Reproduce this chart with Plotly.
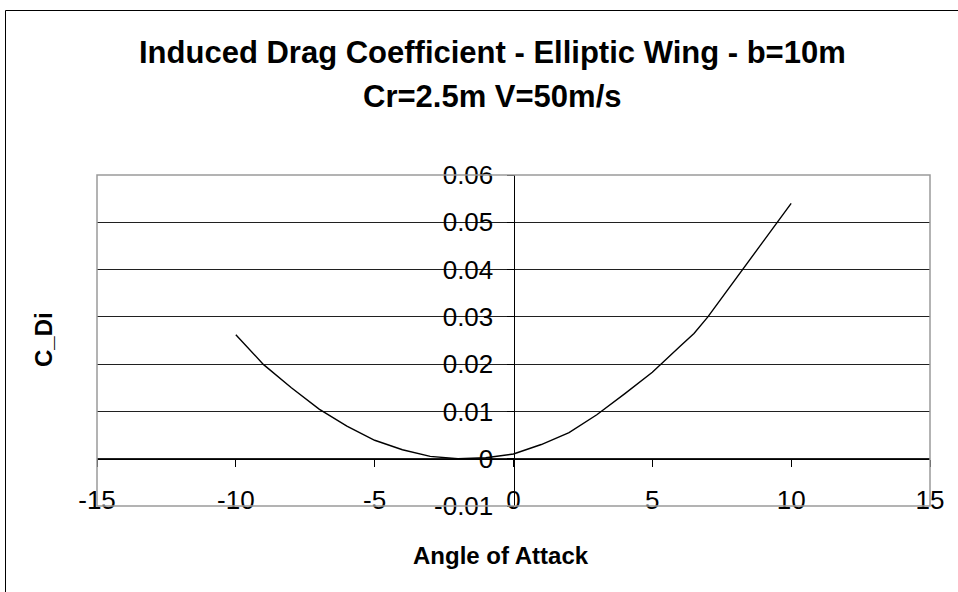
import plotly.graph_objects as go

# Data
angles = [-10, -9, -8, -7, -6, -5, -4, -3, -2, -1, 0, 1, 2, 3, 4, 5, 6, 6.5, 7, 8, 9, 10]
cdi = [0.0262, 0.0199, 0.0150, 0.0105, 0.0069, 0.0039, 0.0019, 0.0005, 0.0000, 0.0002,
       0.0010, 0.0030, 0.0055, 0.0093, 0.0137, 0.0183, 0.0238, 0.0265, 0.0300, 0.0380,
       0.0460, 0.0540]

x_ticks = [-15, -10, -5, 0, 5, 10, 15]
y_ticks = [-0.01, 0, 0.01, 0.02, 0.03, 0.04, 0.05, 0.06]
y_tick_text = ["-0.01", "0", "0.01", "0.02", "0.03", "0.04", "0.05", "0.06"]

title_line1 = "Induced Drag Coefficient - Elliptic Wing - b=10m"
title_line2 = "Cr=2.5m V=50m/s"
x_title = "Angle of Attack"
y_title = "C_Di"

W, H = 958, 592
L, R, T, B = 97, 28, 175, 86
pw, ph = W - L - R, H - T - B

def px2x(px):
    return (px - L) / pw

def py2y(py):
    return (H - B - py) / ph

FONT = "Liberation Sans, Arial, sans-serif"

fig = go.Figure()
fig.add_trace(go.Scatter(x=angles, y=cdi, mode="lines",
                         line=dict(color="black", width=1.4),
                         showlegend=False, hoverinfo="skip"))

fig.update_layout(
    width=W, height=H,
    margin=dict(l=L, r=R, t=T, b=B),
    paper_bgcolor="white", plot_bgcolor="white",
    font=dict(family=FONT, color="black"),
    xaxis=dict(range=[-15, 15], tickvals=x_ticks, ticktext=[str(v) for v in x_ticks],
               showgrid=False, zeroline=False, showline=True, linecolor="black", linewidth=1,
               ticks="outside", ticklen=7, tickcolor="black", tickwidth=1,
               tickfont=dict(size=26, family=FONT, color="black"),
               anchor="free", position=1/7, ticklabelstandoff=11),
    yaxis=dict(range=[-0.01, 0.06], tickvals=y_ticks, ticktext=y_tick_text,
               showgrid=True, gridcolor="#202020", gridwidth=1,
               zeroline=False, showline=True, linecolor="black", linewidth=1,
               ticks="outside", ticklen=7, tickcolor="black", tickwidth=1,
               tickfont=dict(size=26, family=FONT, color="black"),
               anchor="free", position=0.5, ticklabelstandoff=8),
    shapes=[
        dict(type="rect", xref="paper", yref="paper", x0=0, x1=1, y0=0, y1=1,
             line=dict(color="#9a9a9a", width=1.5), fillcolor="rgba(0,0,0,0)", layer="above"),
        dict(type="rect", xref="paper", yref="paper",
             x0=px2x(5.5), x1=px2x(1000), y0=py2y(10.5), y1=py2y(700),
             line=dict(color="black", width=1), fillcolor="rgba(0,0,0,0)", layer="above"),
    ],
    annotations=[
        dict(text=title_line1, xref="paper", yref="paper", x=px2x(492), y=py2y(52),
             xanchor="center", yanchor="middle", showarrow=False,
             font=dict(size=31, family=FONT, color="black", weight="bold")),
        dict(text=title_line2, xref="paper", yref="paper", x=px2x(492), y=py2y(96),
             xanchor="center", yanchor="middle", showarrow=False,
             font=dict(size=31, family=FONT, color="black", weight="bold")),
        dict(text=x_title, xref="paper", yref="paper", x=px2x(501), y=py2y(555),
             xanchor="center", yanchor="middle", showarrow=False,
             font=dict(size=24, family=FONT, color="black", weight="bold")),
        dict(text=y_title, xref="paper", yref="paper", x=px2x(43), y=py2y(340),
             xanchor="center", yanchor="middle", showarrow=False, textangle=-90,
             font=dict(size=24, family=FONT, color="black", weight="bold")),
    ],
)

fig.write_html("out.html", config={"displayModeBar": False},
               post_script="document.body.style.margin='0';")
